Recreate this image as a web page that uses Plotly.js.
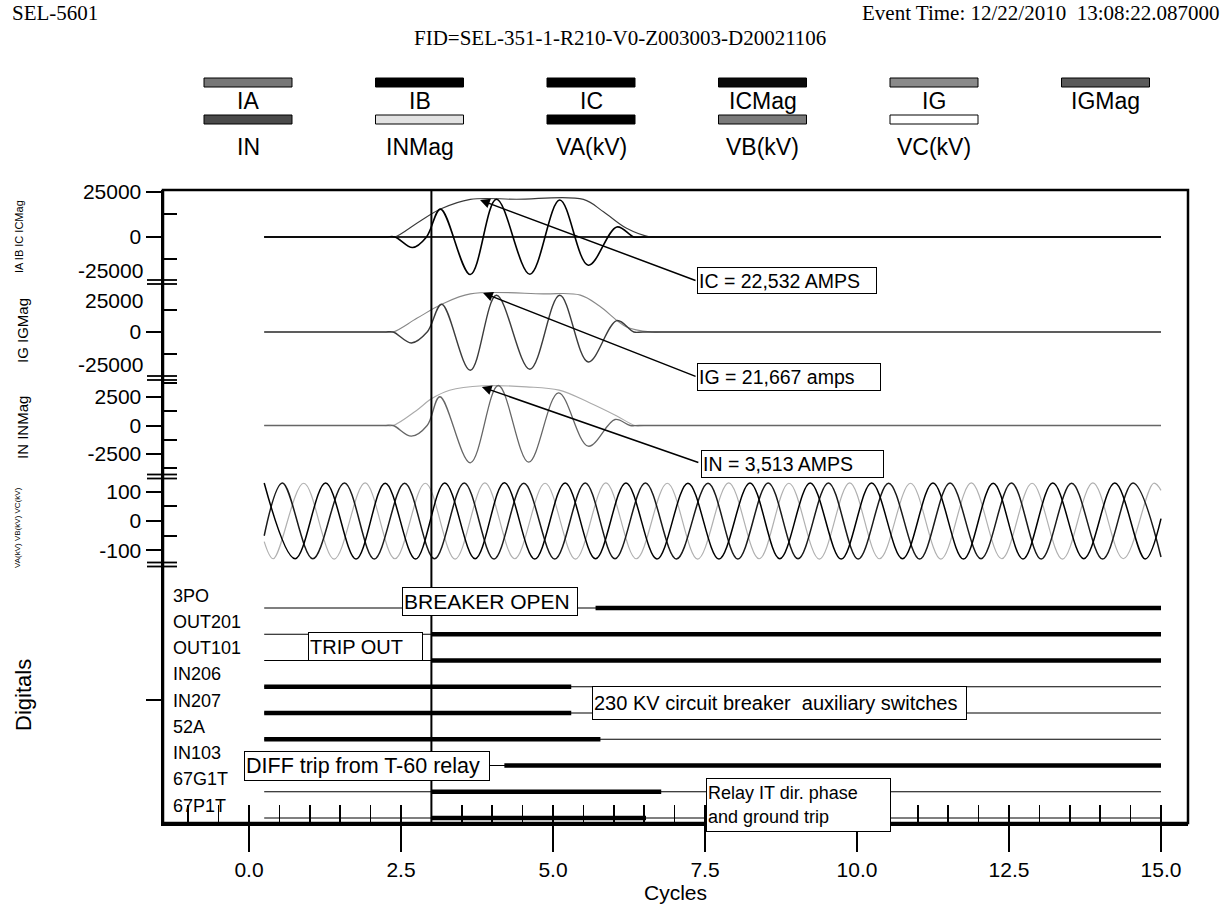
<!DOCTYPE html>
<html><head><meta charset="utf-8">
<script src="https://cdn.plot.ly/plotly-3.0.1.min.js"></script>
<style>html,body{margin:0;padding:0;background:#fff}</style>
</head><body><div id="chart" style="width:1229px;height:923px"></div>
<script>
// ===================== DATA =====================
// Time axis in cycles. Currents in amps, voltages in kV.
const icT    = [0.25, 2.25, 2.40, 2.69, 2.92, 3.15, 3.64, 4.07, 4.62, 5.11, 5.58, 6.05, 6.33, 6.48, 15.0];
const icV    = [0, 0, 0, -5900, 0, 15500, -20900, 20950, -20700, 20550, -15700, 5550, 0, 0, 0];
const icMagT = [0.25, 2.25, 2.40, 2.76, 3.15, 3.64, 4.40, 5.50, 5.83, 6.21, 6.60, 6.75, 15.0];
const icMagV = [0, 0, 0, 7600, 15500, 20900, 20950, 20900, 14000, 4800, 0, 0, 0];
const iaT = [0.25, 15.0];
const iaV = [0, 0];
const ibT = [0.25, 15.0];
const ibV = [0, 0];

const igT    = [0.25, 2.22, 2.37, 2.67, 2.93, 3.17, 3.64, 4.07, 4.62, 5.11, 5.58, 6.05, 6.33, 6.48, 15.0];
const igV    = [0, 0, 0, -6100, 0, 15400, -21250, 20400, -20700, 20400, -16650, 6350, 0, 0, 0];
const igMagT = [0.25, 2.22, 2.37, 2.76, 3.17, 3.64, 4.84, 5.45, 5.77, 6.21, 6.63, 6.78, 15.0];
const igMagV = [0, 0, 0, 7600, 15400, 21200, 21200, 20500, 14300, 2800, 0, 0, 0];

const inT    = [0.25, 2.22, 2.37, 2.67, 2.93, 3.14, 3.64, 4.10, 4.60, 5.09, 5.58, 6.02, 6.27, 6.42, 15.0];
const inV    = [0, 0, 0, -940, 0, 2520, -3270, 3510, -3220, 2870, -1815, 525, 0, 0, 0];
const inMagT = [0.25, 2.22, 2.37, 2.75, 3.00, 3.30, 3.85, 4.56, 5.10, 5.60, 6.05, 6.35, 6.50, 15.0];
const inMagV = [0, 0, 0, 1300, 2340, 3090, 3480, 3390, 3100, 2000, 840, 0, 0, 0];

// voltage peaks / troughs (kV)
const vaT = [0.25, 0.76, 1.26, 1.76, 2.24, 2.74, 3.22, 3.72, 4.20, 4.70, 5.20, 5.70, 6.20, 6.71, 7.22, 7.73, 8.24, 8.73, 9.23, 9.74, 10.24, 10.75, 11.25, 11.75, 12.24, 12.73, 13.22, 13.73, 14.24, 14.74, 15.0];
const vaV = [129, -128, 129, -129, 128, -129, 129, -128, 130, -129, 129, -128, 129, -129, 128, -129, 129, -128, 129, -129, 129, -128, 129, -129, 128, -129, 129, -128, 129, -129, 8];
const vbT = [0.25, 0.55, 1.05, 1.57, 2.06, 2.56, 3.05, 3.54, 4.03, 4.52, 5.03, 5.53, 6.02, 6.52, 7.03, 7.55, 8.04, 8.54, 9.03, 9.53, 10.02, 10.52, 11.03, 11.53, 12.04, 12.54, 13.03, 13.53, 14.04, 14.54, 15.0];
const vbV = [-50, 129, -128, 129, -129, 128, -128, 129, -129, 128, -129, 129, -128, 129, -129, 128, -129, 129, -128, 129, -129, 128, -129, 129, -128, 129, -129, 128, -129, 129, -122];
const vcT = [0.25, 0.40, 0.90, 1.40, 1.91, 2.40, 2.90, 3.39, 3.88, 4.37, 4.87, 5.37, 5.87, 6.37, 6.88, 7.38, 7.89, 8.39, 8.88, 9.38, 9.88, 10.37, 10.88, 11.38, 11.88, 12.38, 12.88, 13.38, 13.88, 14.38, 14.88, 15.0];
const vcV = [-70, -128, 128, -129, 129, -128, 128, -129, 129, -128, 128, -129, 129, -128, 128, -129, 129, -128, 128, -129, 129, -128, 128, -129, 129, -128, 128, -129, 129, -128, 128, 104];

// digital channels: asserted (thick) from digitalOn to digitalOff
const digitalNames = ['3PO', 'OUT201', 'OUT101', 'IN206', 'IN207', '52A', 'IN103', '67G1T', '67P1T'];
const digitalOn    = [5.70, 3.0, 3.0, 0.25, 0.25, 0.25, 4.20, 3.0, 3.0];
const digitalOff   = [15.0, 15.0, 15.0, 5.30, 5.30, 5.78, 15.0, 6.78, 6.53];
const recordStart = 0.25, recordEnd = 15.0;
const cursorCycle = 3.0;

// tick labels
const p1TickVals = [0, 25000],        p1TickText = ['0', '25000'];
const p2TickVals = [0],               p2TickText = ['0'];
const p3TickVals = [-2500, 0, 2500],  p3TickText = ['-2500', '0', '2500'];
const p4TickVals = [-100, 0, 100],    p4TickText = ['-100', '0', '100'];
const xTickVals = [0, 2.5, 5, 7.5, 10, 12.5, 15];
const xTickText = ['0.0', '2.5', '5.0', '7.5', '10.0', '12.5', '15.0'];

const legendNames = ['IA', 'IB', 'IC', 'ICMag', 'IG', 'IGMag', 'IN', 'INMag', 'VA(kV)', 'VB(kV)', 'VC(kV)'];
const legendFill  = ['#777', '#000', '#000', '#0a0a0a', '#8a8a8a', '#5a5a5a', '#4a4a4a', '#e2e2e2', '#000', '#7a7a7a', '#fff'];

const annotIC = 'IC = 22,532 AMPS', annotIG = 'IG = 21,667 amps', annotIN = 'IN = 3,513 AMPS';

// ===================== LAYOUT HELPERS =====================
const SANS = 'Liberation Sans, Arial, Helvetica, sans-serif';
const SERIF = 'Liberation Serif, Times New Roman, serif';
const L = 163, R = 1188, T = 190, B = 823;
const pw = R - L, ph = B - T;
const px2x = p => (p - L) / pw;
const py2y = p => (B - p) / ph;
const dom = (top, bot) => [py2y(bot), py2y(top)];
const cyc2px = 60.8, zeroPx = 249;

const traces = [];
function wave(x, y, ax, color, width, dash) {
  traces.push({x, y, yaxis: ax, xaxis: 'x', type: 'scatter', mode: 'lines',
    line: {color, width, shape: 'spline', smoothing: 1, dash: dash || 'solid'}, hoverinfo: 'skip'});
}
wave(iaT, iaV, 'y', '#777', 1.2);
wave(ibT, ibV, 'y', '#000', 1.5);
wave(icMagT, icMagV, 'y', '#3a3a3a', 1.1);
wave(icT, icV, 'y', '#000', 1.6);
wave(igMagT, igMagV, 'y2', '#888', 1.1);
wave(igT, igV, 'y2', '#3c3c3c', 1.4);
wave(inMagT, inMagV, 'y3', '#aaa', 1.1);
wave(inT, inV, 'y3', '#666', 1.3);
wave(vcT, vcV, 'y4', '#b0b0b0', 1.2);
wave(vbT, vbV, 'y4', '#1a1a1a', 1.5);
wave(vaT, vaV, 'y4', '#000', 1.5);

digitalNames.forEach((n, i) => {
  const yv = digitalNames.length - i;
  traces.push({x: [recordStart, recordEnd], y: [yv, yv], xaxis: 'x', yaxis: 'y5', mode: 'lines',
    line: {color: '#000', width: 1.1}, hoverinfo: 'skip'});
  traces.push({x: [digitalOn[i], digitalOff[i]], y: [yv, yv], xaxis: 'x', yaxis: 'y5', mode: 'lines',
    line: {color: '#000', width: 4.5}, hoverinfo: 'skip'});
});
// helper trace so that the inner tick axis is drawn
traces.push({x: [0], y: [null], xaxis: 'x2', yaxis: 'y5', mode: 'lines', hoverinfo: 'skip'});

const tickFont = {family: SANS, size: 21, color: '#000'};
function yax(d, range, tv, tt, minorVals) {
  return {domain: d, range, anchor: 'x', tickmode: 'array', tickvals: tv, ticktext: tt,
    ticks: 'outside', ticklen: 15, tickwidth: 2, tickcolor: '#000', tickfont: tickFont,
    showline: true, linewidth: 2.5, linecolor: '#000', showgrid: false, zeroline: false, fixedrange: true,
    minor: minorVals ? {tickmode: 'array', tickvals: minorVals, ticks: 'inside', ticklen: 14, tickwidth: 2, tickcolor: '#000'} : undefined};
}

const layout = {
  width: 1229, height: 923, showlegend: false,
  paper_bgcolor: '#fff', plot_bgcolor: '#fff',
  margin: {l: L, r: 1229 - R, t: T, b: 923 - B, pad: 0},
  xaxis: {anchor: 'y5', range: [(L - zeroPx) / cyc2px, (R - zeroPx) / cyc2px], tickmode: 'array',
    tickvals: xTickVals, ticktext: xTickText, ticks: 'outside', ticklen: 26, tickwidth: 2.5, tickcolor: '#000',
    tickfont: tickFont, showline: true, linewidth: 2.5, linecolor: '#000', showgrid: false, zeroline: false,
    title: {text: 'Cycles', font: {family: SANS, size: 21, color: '#000'}, standoff: 4}, fixedrange: true},
  xaxis2: {overlaying: 'x', matches: 'x', anchor: 'y5', side: 'bottom', tickmode: 'linear', tick0: 0, dtick: 0.5,
    ticks: 'inside', ticklen: 18, tickwidth: 1.6, tickcolor: '#000', showticklabels: false,
    showline: false, showgrid: false, zeroline: false},
  yaxis:  yax(dom(T, 282),     [-25050, 26110], p1TickVals, p1TickText, [-12500, 12500]),
  yaxis2: yax(dom(282, 378),   [-25560, 27780], p2TickVals, p2TickText, [-12500, 12500]),
  yaxis3: yax(dom(378, 476.5), [-4473, 4166],   p3TickVals, p3TickText, [-3750, -1250, 1250, 3750]),
  yaxis4: yax(dom(476.5, 564.5), [-147.5, 150.9], p4TickVals, p4TickText, [-50, 50]),
  yaxis5: yax(dom(564.5, B), [0.81, 10.66], [5.5], [''], null),
  shapes: [], annotations: []
};

// frame
layout.shapes.push({type: 'rect', xref: 'paper', yref: 'paper', x0: 0, x1: 1, y0: 0, y1: 1,
  line: {color: '#000', width: 2.5}, layer: 'above'});
// cursor
layout.shapes.push({type: 'line', xref: 'x', yref: 'paper', x0: cursorCycle, x1: cursorCycle, y0: 0, y1: 1,
  line: {color: '#000', width: 2}});
// axis break marks
[282, 378, 476.5, 564.5].forEach(p => {
  [-2, 2].forEach(o => layout.shapes.push({type: 'line', xref: 'paper', yref: 'paper',
    x0: px2x(147), x1: px2x(177), y0: py2y(p + o), y1: py2y(p + o), line: {color: '#000', width: 1.8}}));
});
// legend
legendNames.forEach((n, i) => {
  const row = i < 6 ? 0 : 1, col = i < 6 ? i : i - 6;
  const cx = 248 + 171.5 * col;
  const sy = row === 0 ? 78 : 115;
  layout.shapes.push({type: 'rect', xref: 'paper', yref: 'paper',
    x0: px2x(cx - 44), x1: px2x(cx + 44), y0: py2y(sy + 9), y1: py2y(sy),
    fillcolor: legendFill[i], line: {color: '#000', width: 1}});
  layout.annotations.push({text: n, xref: 'paper', yref: 'paper', x: px2x(cx), y: py2y(row === 0 ? 101 : 147),
    showarrow: false, xanchor: 'center', yanchor: 'middle', font: {family: SANS, size: 23, color: '#000'}});
});

function ann(text, px, py, extra) {
  layout.annotations.push(Object.assign({text, xref: 'paper', yref: 'paper', x: px2x(px), y: py2y(py),
    showarrow: false, font: {family: SANS, size: 20, color: '#000'}}, extra));
}
// header
ann('SEL-5601', 10, 13, {xanchor: 'left', yanchor: 'middle', font: {family: SERIF, size: 21, color: '#000'}});
ann('Event Time: 12/22/2010  13:08:22.087000', 1222, 13, {xanchor: 'right', yanchor: 'middle', font: {family: SERIF, size: 21, color: '#000'}});
ann('FID=SEL-351-1-R210-V0-Z003003-D20021106', 620, 38, {xanchor: 'center', yanchor: 'middle', font: {family: SERIF, size: 21, color: '#000'}});

// displaced tick labels at panel boundaries
ann('-25000', 145, 270, {xanchor: 'right', yanchor: 'middle', font: tickFont});
ann('25000', 145, 300, {xanchor: 'right', yanchor: 'middle', font: tickFont});
ann('-25000', 145, 364, {xanchor: 'right', yanchor: 'middle', font: tickFont});

// rotated panel titles
ann('IA IB IC ICMag', 19, 237, {textangle: -90, xanchor: 'center', yanchor: 'middle', font: {family: SANS, size: 11, color: '#000'}});
ann('IG IGMag', 22, 331, {textangle: -90, xanchor: 'center', yanchor: 'middle', font: {family: SANS, size: 15, color: '#000'}});
ann('IN INMag', 22, 428, {textangle: -90, xanchor: 'center', yanchor: 'middle', font: {family: SANS, size: 15, color: '#000'}});
ann('VA(kV) VB(kV) VC(kV)', 17, 528, {textangle: -90, xanchor: 'center', yanchor: 'middle', font: {family: SANS, size: 8, color: '#000'}});
ann('Digitals', 23, 695, {textangle: -90, xanchor: 'center', yanchor: 'middle', font: {family: SANS, size: 22, color: '#000'}});

// digital channel names
digitalNames.forEach((n, i) => {
  const yv = digitalNames.length - i;
  layout.annotations.push({text: n, xref: 'paper', yref: 'y5', x: px2x(171), y: yv + 0.47,
    showarrow: false, xanchor: 'left', yanchor: 'middle', font: {family: SANS, size: 18, color: '#000'}});
});

// boxed notes
const box = {bgcolor: '#fff', bordercolor: '#000', borderwidth: 1, borderpad: 1, align: 'left', xanchor: 'center', yanchor: 'middle'};
ann('BREAKER OPEN', 489.5, 601, Object.assign({}, box, {width: 172, height: 25, font: {family: SANS, size: 21, color: '#000'}}));
ann('TRIP OUT', 365, 646, Object.assign({}, box, {width: 111, height: 25}));
ann('230 KV circuit breaker  auxiliary switches', 779, 702.5, Object.assign({}, box, {width: 371, height: 30}));
ann('DIFF trip from T-60 relay', 366.5, 765.5, Object.assign({}, box, {width: 242, height: 26, font: {family: SANS, size: 21.5, color: '#000'}}));
ann('Relay IT dir. phase<br>and ground trip', 798, 804.5, Object.assign({}, box, {width: 181, height: 50, font: {family: SANS, size: 18, color: '#000'}}));
ann(annotIC, 786.5, 280, Object.assign({}, box, {width: 176, height: 23, font: {family: SANS, size: 19.5, color: '#000'}}));
ann(annotIG, 789, 377, Object.assign({}, box, {width: 180, height: 24, font: {family: SANS, size: 19.5, color: '#000'}}));
ann(annotIN, 792, 463.5, Object.assign({}, box, {width: 179, height: 24, font: {family: SANS, size: 19.5, color: '#000'}}));

// arrows to the peaks
function arrow(xv, yv, yref, ax, ay) {
  layout.annotations.push({text: '', xref: 'x', yref, x: xv, y: yv, ax, ay, axref: 'pixel', ayref: 'pixel',
    showarrow: true, arrowhead: 2, arrowsize: 1.3, arrowwidth: 1.5, arrowcolor: '#000', standoff: 0});
}
arrow(3.80, 20550, 'y', 217, 81);
arrow(3.85, 21670, 'y2', 214, 84);
arrow(3.83, 3376, 'y3', 218, 76);

Plotly.newPlot('chart', traces, layout, {displayModeBar: false, staticPlot: true});
</script>
</body></html>
